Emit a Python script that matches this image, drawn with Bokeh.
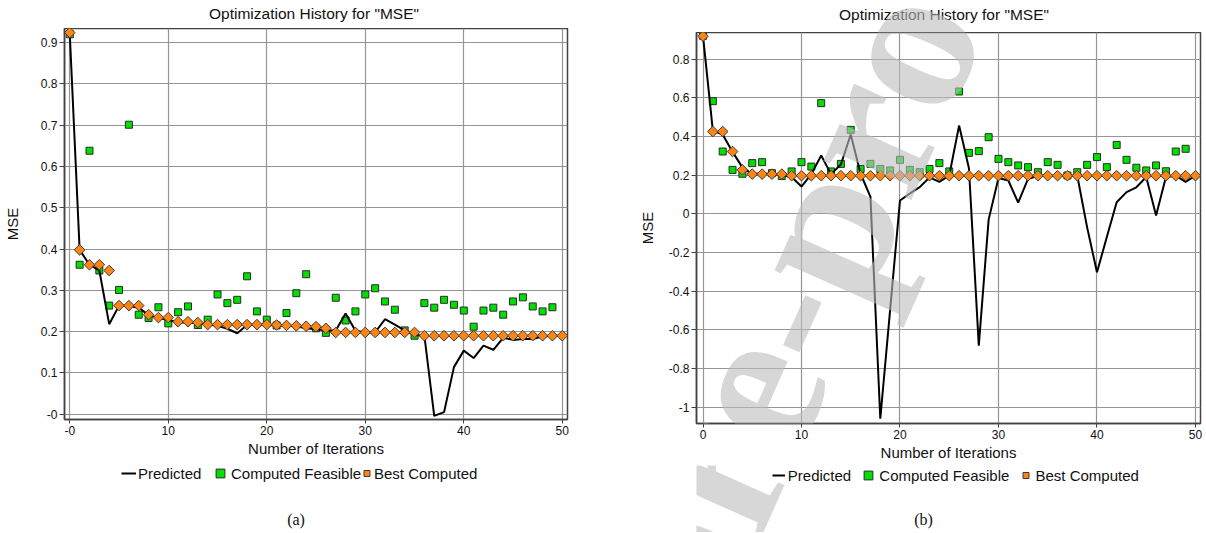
import math
from bokeh.plotting import figure
from bokeh.models import Range1d, FixedTicker, Legend, LegendItem, Label
from bokeh.layouts import row, column
from bokeh.embed import file_html
from bokeh.resources import INLINE

# ---------------- data ----------------
ITER = list(range(51))
ITER_FEAS = list(range(50))

PRED_A = [0.92, 0.398, 0.362, 0.348, 0.218, 0.263, 0.262, 0.258, 0.240, 0.233,
          0.228, 0.222, 0.222, 0.220, 0.217, 0.214, 0.207, 0.196, 0.216, 0.217,
          0.216, 0.215, 0.214, 0.213, 0.208, 0.206, 0.203, 0.203, 0.244, 0.202,
          0.198, 0.198, 0.230, 0.217, 0.203, 0.192, 0.190, -0.004, 0.005, 0.114,
          0.154, 0.136, 0.166, 0.156, 0.185, 0.180, 0.182, 0.182, 0.188, 0.190,
          0.190]
FEAS_A = [0.92, 0.362, 0.638, 0.348, 0.263, 0.301, 0.701, 0.241, 0.233, 0.259,
          0.220, 0.247, 0.261, 0.216, 0.229, 0.290, 0.269, 0.277, 0.334, 0.249,
          0.229, 0.215, 0.245, 0.293, 0.339, 0.208, 0.197, 0.282, 0.227, 0.249,
          0.290, 0.305, 0.273, 0.253, 0.203, 0.190, 0.269, 0.258, 0.277, 0.265,
          0.251, 0.212, 0.251, 0.258, 0.241, 0.273, 0.283, 0.261, 0.249, 0.259]
BEST_A = [0.924, 0.398, 0.362, 0.362, 0.348, 0.263, 0.263, 0.263, 0.241, 0.234,
          0.234, 0.224, 0.224, 0.222, 0.217, 0.217, 0.217, 0.217, 0.217, 0.217,
          0.217, 0.216, 0.215, 0.214, 0.213, 0.212, 0.208, 0.198, 0.198, 0.198,
          0.198, 0.198, 0.198, 0.198, 0.198, 0.198, 0.190, 0.190, 0.190, 0.190,
          0.190, 0.190, 0.190, 0.190, 0.190, 0.190, 0.190, 0.190, 0.190, 0.190,
          0.190]

PRED_B = [0.92, 0.43, 0.41, 0.32, 0.24, 0.205, 0.21, 0.205, 0.20, 0.19,
          0.141, 0.205, 0.301, 0.205, 0.255, 0.41, 0.207, 0.088, -1.059, -0.495,
          0.069, 0.105, 0.138, 0.188, 0.165, 0.198, 0.456, 0.235, -0.681, -0.03,
          0.185, 0.172, 0.058, 0.18, 0.197, 0.197, 0.197, 0.197, 0.197, -0.07,
          -0.302, -0.12, 0.06, 0.112, 0.137, 0.19, -0.009, 0.19, 0.197, 0.165,
          0.197]
FEAS_B = [0.92, 0.582, 0.322, 0.227, 0.207, 0.262, 0.267, 0.210, 0.195, 0.219,
          0.267, 0.244, 0.572, 0.219, 0.258, 0.434, 0.232, 0.258, 0.232, 0.224,
          0.279, 0.227, 0.215, 0.232, 0.262, 0.219, 0.632, 0.315, 0.324, 0.396,
          0.284, 0.267, 0.250, 0.241, 0.215, 0.267, 0.253, 0.198, 0.215, 0.253,
          0.293, 0.241, 0.356, 0.279, 0.238, 0.224, 0.250, 0.220, 0.322, 0.336]
BEST_B = [0.918, 0.425, 0.425, 0.322, 0.227, 0.205, 0.205, 0.205, 0.205, 0.197,
          0.197, 0.197, 0.197, 0.197, 0.197, 0.197, 0.197, 0.197, 0.197, 0.197,
          0.197, 0.197, 0.197, 0.197, 0.197, 0.197, 0.197, 0.197, 0.197, 0.197,
          0.197, 0.197, 0.197, 0.197, 0.197, 0.197, 0.197, 0.197, 0.197, 0.197,
          0.197, 0.197, 0.197, 0.197, 0.197, 0.197, 0.197, 0.197, 0.197, 0.197,
          0.197]

X_TICKS = [0, 10, 20, 30, 40, 50]
X_LABELS_A = ["-0", "10", "20", "30", "40", "50"]
X_LABELS_B = ["0", "10", "20", "30", "40", "50"]
Y_TICKS_A = [0.0, 0.1, 0.2, 0.3, 0.4, 0.5, 0.6, 0.7, 0.8, 0.9]
Y_LABELS_A = ["-0", "0.1", "0.2", "0.3", "0.4", "0.5", "0.6", "0.7", "0.8", "0.9"]
Y_TICKS_B = [-1.0, -0.8, -0.6, -0.4, -0.2, 0.0, 0.2, 0.4, 0.6, 0.8]
Y_LABELS_B = ["-1", "-0.8", "-0.6", "-0.4", "-0.2", "0", "0.2", "0.4", "0.6", "0.8"]

TITLE = 'Optimization History for "MSE"'
XLABEL = "Number of Iterations"
YLABEL = "MSE"
LEGEND_LABELS = ["Predicted", "Computed Feasible", "Best Computed"]
CAPTIONS = ["(a)", "(b)"]
WATERMARK = "pre-pro"

# ---------------- styles / layout (page pixel coordinates) ----------------
FONT = "Liberation Sans"
SERIF = "Liberation Serif"
GREEN = "#00e000"
ORANGE = "#ff8412"
GRID = "#959595"
FRAMEC = "#424242"
PAGE_TOP, PAGE_BOTTOM = 0, 532
AXIS_BAND = 42          # room under the frame for tick labels + axis label

GEOM_A = dict(page_left=0, width=631,
              frame=(63, 28, 567, 419), xr=(-0.537, 50.53), yr=(-0.0128, 0.934),
              title=(313, 12.5), caption=(295, 519),
              legend=[(127.5, 473, 15, 18, 2), (219, 473, 22, 22, 0),
                      (365.5, 473, 15, 18, 0)],
              ylabel_standoff=17)
GEOM_B = dict(page_left=631, width=574,
              frame=(696, 32, 1200, 423), xr=(-0.66, 50.51), yr=(-1.0837, 0.937),
              title=(943.5, 13.5), caption=(923, 519),
              legend=[(778.3, 475, 13, 18, 3), (868.3, 475, 22, 22, 0),
                      (1025, 475, 15, 18, 3)],
              ylabel_standoff=10,
              watermark=(646, 620, 66.0, 210))


def to_data(g, px, py):
    fl, ft, fr, fb = g["frame"]
    x0, x1 = g["xr"]
    y0, y1 = g["yr"]
    x = x0 + (px - fl) / (fr - fl) * (x1 - x0)
    y = y1 - (py - ft) / (fb - ft) * (y1 - y0)
    return x, y


def strip_fig(g, top, bottom):
    """Frame-only figure aligned with the chart frame; data coords = page pixels."""
    fl, ft, fr, fb = g["frame"]
    left, width = g["page_left"], g["width"]
    p = figure(width=width, height=bottom - top,
               x_range=Range1d(fl, fr), y_range=Range1d(bottom, top),
               x_axis_type=None, y_axis_type=None,
               min_border_left=fl - left, min_border_right=left + width - fr,
               min_border_top=0, min_border_bottom=0,
               output_backend="svg", toolbar_location=None, title=None)
    p.outline_line_color = None
    p.background_fill_color = "white"
    p.border_fill_color = "white"
    return p


def add_series(p, pred, feas, best):
    r_feas = p.scatter(ITER_FEAS, feas, marker="square", size=7,
                       fill_color=GREEN, line_color="#2b2b2b", line_width=1)
    r_pred = p.line(ITER, pred, line_color="black", line_width=2)
    r_best = p.scatter(ITER, best, marker="square", angle=math.pi / 4, size=7.5,
                       fill_color=ORANGE, line_color="#3b3b3b", line_width=1)
    return r_pred, r_feas, r_best


def watermark_label(x, y, g):
    _, _, ang, fs = g["watermark"]
    return Label(x=x, y=y, text=WATERMARK, angle=math.radians(ang),
                 text_align="left", text_baseline="alphabetic",
                 text_font=SERIF, text_font_style="bold",
                 text_font_size="%dpx" % fs, text_color="#bdbdbd", text_alpha=0.6)


def build(g, pred, feas, best, xlabels, yticks, ylabels, caption):
    fl, ft, fr, fb = g["frame"]
    left, width = g["page_left"], g["width"]
    plot_bottom = fb + AXIS_BAND

    # ---- title strip ----
    top = strip_fig(g, PAGE_TOP, ft)
    top.add_layout(Label(x=g["title"][0], y=g["title"][1], text=TITLE,
                         text_align="center", text_baseline="middle",
                         text_font=FONT, text_font_size="15.5px",
                         text_color="#111111"))

    # ---- main chart ----
    p = figure(width=width, height=plot_bottom - ft,
               x_range=Range1d(*g["xr"]), y_range=Range1d(*g["yr"]),
               min_border_left=fl - left, min_border_right=left + width - fr,
               min_border_top=0, min_border_bottom=AXIS_BAND,
               output_backend="svg", toolbar_location=None, title=None)
    p.background_fill_color = "white"
    p.border_fill_color = "white"
    p.outline_line_color = FRAMEC
    p.outline_line_width = 1.5

    for ax in (p.xaxis[0], p.yaxis[0]):
        ax.axis_line_color = FRAMEC
        ax.axis_line_width = 1.5
        ax.major_tick_in = 0
        ax.major_tick_out = 5
        ax.major_tick_line_color = FRAMEC
        ax.minor_tick_in = 0
        ax.minor_tick_out = 0
        ax.major_label_text_font = FONT
        ax.major_label_text_font_size = "12px"
        ax.major_label_text_color = "#111111"
        ax.axis_label_text_font = FONT
        ax.axis_label_text_font_size = "15px"
        ax.axis_label_text_font_style = "normal"
        ax.axis_label_text_color = "#111111"

    p.xaxis.ticker = FixedTicker(ticks=X_TICKS)
    p.xaxis.major_label_overrides = dict(zip(X_TICKS, xlabels))
    p.xaxis.major_tick_out = 4
    p.xaxis.major_label_standoff = 2
    p.xaxis.axis_label = XLABEL
    p.xaxis.axis_label_standoff = 2

    p.yaxis.ticker = FixedTicker(ticks=yticks)
    p.yaxis.major_label_overrides = dict(zip(yticks, ylabels))
    p.yaxis.major_label_standoff = 2
    p.yaxis.axis_label = YLABEL
    p.yaxis.axis_label_standoff = g["ylabel_standoff"]

    p.xgrid.grid_line_color = GRID
    p.ygrid.grid_line_color = GRID
    p.xgrid.grid_line_width = 1.2
    p.ygrid.grid_line_width = 1.2

    add_series(p, pred, feas, best)

    # ---- legend + caption strip ----
    bot = strip_fig(g, plot_bottom, PAGE_BOTTOM)
    rends = add_series(bot, pred, feas, best)   # same series, outside this strip's range
    for (cx, cy, gw, gh, so), lab, rend in zip(g["legend"], LEGEND_LABELS, rends):
        vx = cx - gw / 2.0 - fl
        vy = PAGE_BOTTOM - cy - gh / 2.0
        bot.add_layout(Legend(items=[LegendItem(label=lab, renderers=[rend])],
                              location=(vx, vy), orientation="horizontal",
                              glyph_width=gw, glyph_height=gh, label_height=gh,
                              label_width=10, label_standoff=so,
                              padding=0, margin=0, spacing=0,
                              border_line_color=None, background_fill_alpha=0,
                              label_text_font=FONT, label_text_font_size="15px",
                              label_text_color="#111111"))
    bot.add_layout(Label(x=g["caption"][0], y=g["caption"][1], text=caption,
                         text_align="center", text_baseline="middle",
                         text_font=SERIF, text_font_size="16px",
                         text_color="#111111"))

    if "watermark" in g:
        wx, wy = g["watermark"][:2]
        dx, dy = to_data(g, wx, wy)
        p.add_layout(watermark_label(dx, dy, g))
        top.add_layout(watermark_label(wx, wy, g))
        bot.add_layout(watermark_label(wx, wy, g))

    return column(top, p, bot)


ca = build(GEOM_A, PRED_A, FEAS_A, BEST_A, X_LABELS_A, Y_TICKS_A, Y_LABELS_A, CAPTIONS[0])
cb = build(GEOM_B, PRED_B, FEAS_B, BEST_B, X_LABELS_B, Y_TICKS_B, Y_LABELS_B, CAPTIONS[1])

layout = row(ca, cb)
open("out.html", "w").write(file_html(layout, INLINE))
